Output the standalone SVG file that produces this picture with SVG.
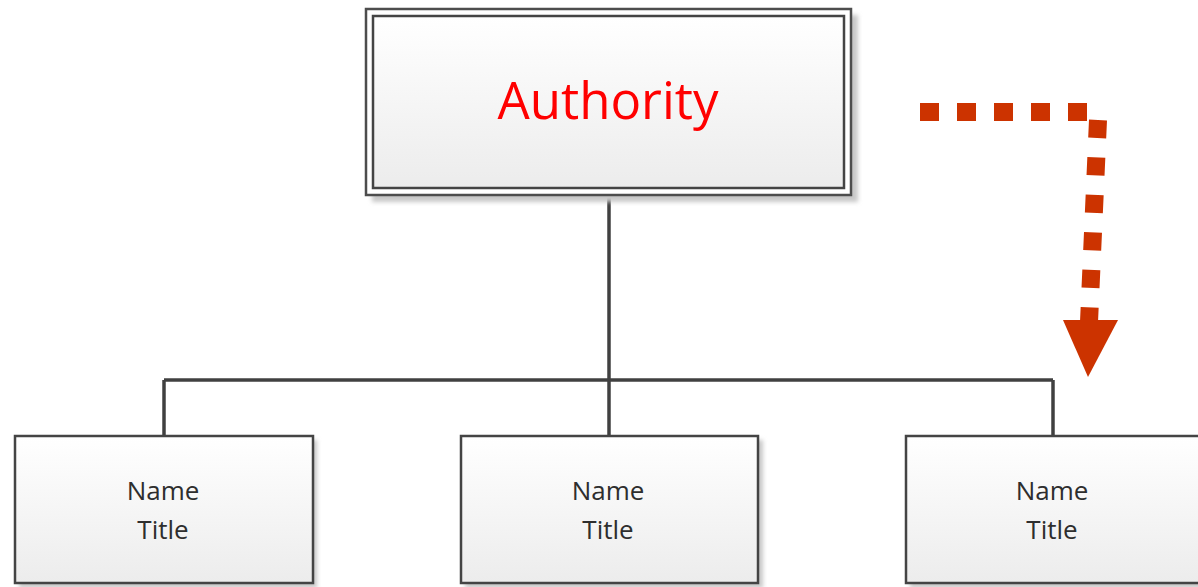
<svg xmlns="http://www.w3.org/2000/svg" width="1198" height="587" viewBox="0 0 1198 587">
  <defs>
    <linearGradient id="boxFill" x1="0" y1="0" x2="0" y2="1">
      <stop offset="0" stop-color="#ffffff"/>
      <stop offset="1" stop-color="#ececec"/>
    </linearGradient>
    <filter id="soft" x="-10%" y="-10%" width="120%" height="120%">
      <feGaussianBlur stdDeviation="2"/>
    </filter>
  </defs>
  <style>
    .shadow { fill: #c8c8c8; filter: url(#soft); }
    .box { fill: url(#boxFill); stroke: #444444; stroke-width: 2.5; }
    .frame { fill: #ffffff; stroke: #4d4d4d; stroke-width: 2.5; }
    .wire { fill: none; stroke: #404040; stroke-width: 3.5; }
    .flow { fill: none; stroke: #cc3300; stroke-width: 18; stroke-linecap: butt; }
    .head { fill: #cc3300; }
    .title { font-family: "Open Sans", "Noto Sans", "Liberation Sans", sans-serif; font-size: 51px; fill: #ff0000; text-anchor: middle; }
    .label { font-family: "Open Sans", "Noto Sans", "Liberation Sans", sans-serif; font-size: 26px; fill: #2e2e2e; text-anchor: middle; }
  </style>

  <!-- org chart wiring -->
  <g id="connectors">
    <path class="wire" d="M609,195 V380"/>
    <path class="wire" d="M164,380 H1053"/>
    <path class="wire" d="M164,380 V436"/>
    <path class="wire" d="M609,380 V436"/>
    <path class="wire" d="M1053,380 V436"/>
    <!-- dotted delegation arrow -->
    <g id="flow-arrow">
      <path class="flow" d="M920,112 H1088" stroke-dasharray="19 18"/>
      <path class="flow" d="M1098,120 L1089,322" stroke-dasharray="18 19.5"/>
      <polygon class="head" points="1063,320 1118,320 1088,377"/>
    </g>
  </g>

  <g id="authority">
    <rect class="shadow" x="372" y="15" width="486" height="187"/>
    <rect class="frame" x="366" y="9" width="485" height="186"/>
    <rect class="box" x="373" y="16" width="471" height="172"/>
    <text class="title" x="608" y="119">Authority</text>
  </g>

  <g id="member-left">
    <rect class="shadow" x="19" y="440" width="298" height="148"/>
    <rect class="box" x="15" y="436" width="298" height="147"/>
    <text class="label" x="163" y="500">Name</text>
    <text class="label" x="163" y="539">Title</text>
  </g>

  <g id="member-center">
    <rect class="shadow" x="465" y="440" width="298" height="148"/>
    <rect class="box" x="461" y="436" width="297" height="147"/>
    <text class="label" x="608" y="500">Name</text>
    <text class="label" x="608" y="539">Title</text>
  </g>

  <g id="member-right">
    <rect class="shadow" x="910" y="440" width="298" height="148"/>
    <rect class="box" x="906" y="436" width="298" height="147"/>
    <text class="label" x="1052" y="500">Name</text>
    <text class="label" x="1052" y="539">Title</text>
  </g>
</svg>
